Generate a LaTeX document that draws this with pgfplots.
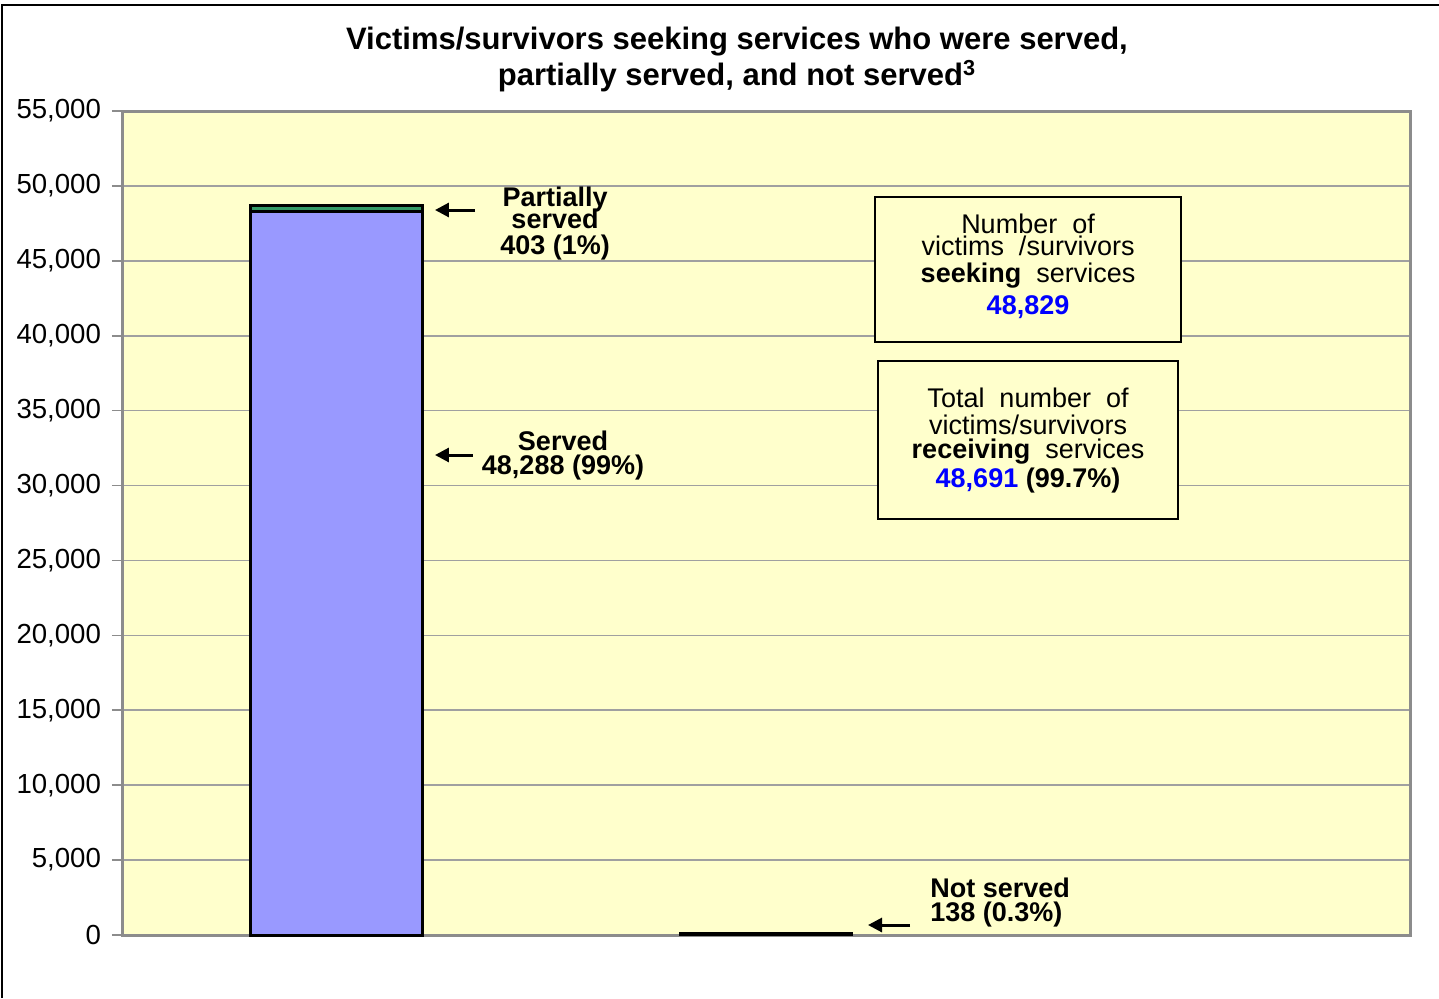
\documentclass[border=0pt]{standalone}
\usepackage{fontspec}
\setmainfont{Liberation Sans}
\usepackage{pgfplots}
\pgfplotsset{compat=1.18}
\usetikzlibrary{arrows.meta}
\definecolor{bg}{HTML}{FFFFCC}
\definecolor{barblue}{HTML}{9999FF}
\definecolor{bargreen}{HTML}{339966}
\definecolor{gridc}{HTML}{A0A0A0}
\definecolor{axisc}{HTML}{8C8C8C}
\definecolor{numblue}{HTML}{0000FF}
\newcommand{\af}{\fontsize{13.5}{15}\selectfont}
\newcommand{\tf}{\fontsize{13.8}{15}\selectfont}
\begin{document}
\begin{tikzpicture}[arr/.style={-{Triangle[length=7pt,width=7pt]}, line width=1.5pt}]
\path[use as bounding box] (0,0) rectangle (719.5pt,499pt);
\draw[line width=0.8pt] (1pt,0) -- (1pt,496.5pt) -- (719.5pt,496.5pt);
\begin{axis}[
 at={(61pt,31.5pt)}, anchor=south west,
 scale only axis, width=644pt, height=412pt,
 xmin=0.5, xmax=3.5, ymin=0, ymax=55000,
 ytick={0,5000,...,55000},
 scaled y ticks=false,
 xtick=\empty,
 ymajorgrids, grid style={gridc, line width=0.8pt},
 axis background/.style={fill=bg},
 axis line style={axisc, line width=1.5pt},
 tick style={axisc, line width=0.8pt},
 major tick length=5pt,
 tick align=outside,
 ytick pos=left,
 yticklabel style={font=\tf, xshift=-2pt, /pgf/number format/1000 sep={,}, /pgf/number format/assume math mode=true},
 ybar stacked, bar width=0.4,
 clip=false,
]
\addplot[fill=barblue, draw=black, line width=1.5pt] coordinates {(1,48288) (2,0)};
\addplot[fill=bargreen, draw=black, line width=1.5pt] coordinates {(1,403) (2,0)};
\addplot[fill=black, draw=black, line width=1.2pt] coordinates {(1,0) (2,138)};

\coordinate (p1) at (axis cs:1.5086,49060);
\coordinate (p2) at (axis cs:1.5086,47791);
\coordinate (p3) at (axis cs:1.5086,45856);
\coordinate (pa1) at (axis cs:1.3222,48392);
\coordinate (pa2) at (axis cs:1.2290,48392);
\coordinate (s1) at (axis cs:1.5272,32973);
\coordinate (s2) at (axis cs:1.5272,31171);
\coordinate (sa1) at (axis cs:1.3175,32039);
\coordinate (sa2) at (axis cs:1.2290,32039);
\coordinate (n1) at (axis cs:2.3820,3137);
\coordinate (n2) at (axis cs:2.3820,1335);
\coordinate (na1) at (axis cs:2.3354,667);
\coordinate (na2) at (axis cs:2.2376,667);
\coordinate (b1a) at (axis cs:2.2539,49260);
\coordinate (b1b) at (axis cs:2.9666,39581);
\coordinate (t11) at (axis cs:2.6103,47458);
\coordinate (t12) at (axis cs:2.6103,45989);
\coordinate (t13) at (axis cs:2.6103,43987);
\coordinate (t14) at (axis cs:2.6103,41917);
\coordinate (b2a) at (axis cs:2.2609,38313);
\coordinate (b2b) at (axis cs:2.9597,27767);
\coordinate (t21) at (axis cs:2.6103,35843);
\coordinate (t22) at (axis cs:2.6103,34042);
\coordinate (t23) at (axis cs:2.6103,32239);
\coordinate (t24) at (axis cs:2.6103,30303);
\end{axis}
\node[font=\af\bfseries] at (p1) {Partially};
\node[font=\af\bfseries] at (p2) {served};
\node[font=\af\bfseries] at (p3) {403 (1\%)};
\draw[arr] (pa1) -- (pa2);

\node[font=\af\bfseries] at (s1) {Served};
\node[font=\af\bfseries] at (s2) {48,288 (99\%)};
\draw[arr] (sa1) -- (sa2);

\node[font=\af\bfseries, anchor=west, inner sep=0pt] at (n1) {Not served};
\node[font=\af\bfseries, anchor=west, inner sep=0pt] at (n2) {138 (0.3\%)};
\draw[arr] (na1) -- (na2);

\draw[fill=bg, line width=0.6pt] (b1a) rectangle (b1b);
\node[font=\af] at (t11) {Number\ \ of};
\node[font=\af] at (t12) {victims\ \ /survivors};
\node[font=\af] at (t13) {\textbf{seeking}\ \ services};
\node[font=\af\bfseries, text=numblue] at (t14) {48,829};

\draw[fill=bg, line width=0.6pt] (b2a) rectangle (b2b);
\node[font=\af] at (t21) {Total\ \ number\ \ of};
\node[font=\af] at (t22) {victims/survivors};
\node[font=\af] at (t23) {\textbf{receiving}\ \ services};
\node[font=\af\bfseries] at (t24) {\textcolor{numblue}{48,691} (99.7\%)};

\node[font=\bfseries\fontsize{15.5}{17}\selectfont] at (368.5pt,478pt) {Victims/survivors seeking services who were served,};
\node[font=\bfseries\fontsize{15.5}{17}\selectfont] at (368.5pt,461pt) {partially served, and not served\textsuperscript{3}};
\end{tikzpicture}
\end{document}
